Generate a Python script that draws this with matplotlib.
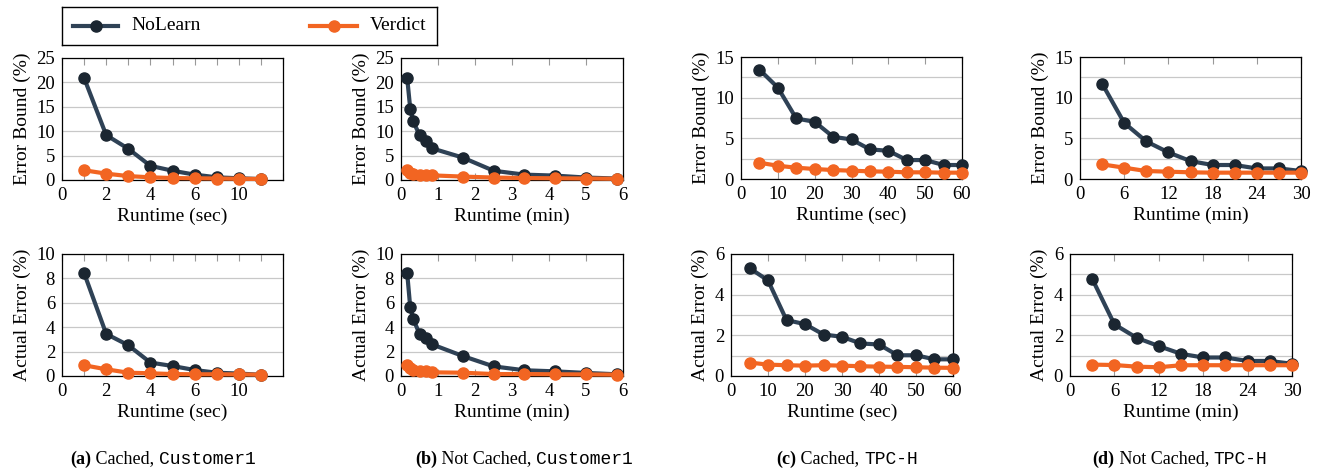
import numpy as np
import matplotlib
matplotlib.use("Agg")
import matplotlib.pyplot as plt

plt.rcParams['font.family'] = ['Liberation Serif', 'DejaVu Serif']

NAVY_LINE = '#2f4256'
NAVY_MARK = '#1b2631'
ORANGE = '#f26522'
GRID = '#c8c8c8'

# (a) Cached, Customer1  (runtime in sec)
a_runtime = [1, 2, 3, 4, 5, 6, 7, 8, 9]
a_nolearn_bound = [20.9, 9.2, 6.4, 2.9, 1.9, 1.1, 0.55, 0.35, 0.2]
a_verdict_bound = [2.0, 1.3, 0.8, 0.55, 0.4, 0.35, 0.3, 0.25, 0.2]
a_nolearn_err = [8.44, 3.45, 2.52, 1.1, 0.82, 0.49, 0.27, 0.2, 0.1]
a_verdict_err = [0.88, 0.55, 0.27, 0.22, 0.16, 0.14, 0.14, 0.13, 0.11]
a_xticks = [0, 1, 2, 3, 4, 5, 6, 7, 8, 9, 10]
a_xticklabels = ['0', '', '2', '', '4', '', '6', '', '10', '', '']

# (b) Not Cached, Customer1  (runtime in min)
b_runtime = [0.167, 0.25, 0.333, 0.5, 0.667, 0.833, 1.667, 2.5, 3.333, 4.167, 5.0, 5.833]
b_nolearn_bound = [20.9, 14.6, 12.0, 9.2, 7.9, 6.5, 4.6, 1.9, 1.1, 0.9, 0.5, 0.3]
b_verdict_bound = [2.05, 1.5, 1.3, 1.1, 1.0, 0.95, 0.7, 0.5, 0.4, 0.35, 0.3, 0.25]
b_nolearn_err = [8.44, 5.62, 4.66, 3.45, 3.1, 2.6, 1.64, 0.79, 0.47, 0.38, 0.25, 0.14]
b_verdict_err = [0.88, 0.63, 0.49, 0.44, 0.41, 0.3, 0.27, 0.16, 0.16, 0.14, 0.13, 0.11]

# (c) Cached, TPC-H  (runtime in sec)
c_runtime = [5, 10, 15, 20, 25, 30, 35, 40, 45, 50, 55, 60]
c_nolearn_bound = [13.45, 11.24, 7.44, 7.03, 5.19, 4.86, 3.64, 3.47, 2.33, 2.33, 1.72, 1.72]
c_verdict_bound = [2.0, 1.63, 1.39, 1.23, 1.1, 1.02, 0.94, 0.9, 0.82, 0.82, 0.78, 0.78]
c_nolearn_err = [5.31, 4.7, 2.75, 2.55, 2.04, 1.93, 1.6, 1.55, 1.02, 1.02, 0.82, 0.82]
c_verdict_err = [0.66, 0.56, 0.53, 0.51, 0.53, 0.51, 0.48, 0.46, 0.45, 0.43, 0.41, 0.4]

# (d) Not Cached, TPC-H  (runtime in min)
d_runtime = [3, 6, 9, 12, 15, 18, 21, 24, 27, 30]
d_nolearn_bound = [11.73, 6.9, 4.62, 3.27, 2.2, 1.72, 1.72, 1.3, 1.3, 0.98]
d_verdict_bound = [1.8, 1.39, 0.98, 0.9, 0.82, 0.78, 0.78, 0.78, 0.78, 0.78]
d_nolearn_err = [4.78, 2.54, 1.88, 1.47, 1.09, 0.91, 0.91, 0.74, 0.74, 0.6]
d_verdict_err = [0.56, 0.54, 0.46, 0.43, 0.53, 0.53, 0.53, 0.53, 0.53, 0.53]

series_names = ['NoLearn', 'Verdict']

W, H = 1322, 472
fig = plt.figure(figsize=(W / 100, H / 100), dpi=100)


def px_axes(left, top, right, bottom):
    return fig.add_axes([left / W, 1 - bottom / H, (right - left) / W, (bottom - top) / H])


def style(ax, xlim, xticks, ylim, yticks, ygrid, xlabel, ylabel, xticklabels=None):
    ax.set_xlim(*xlim)
    ax.set_ylim(*ylim)
    ax.set_xticks(xticks)
    if xticklabels is not None:
        ax.set_xticklabels(xticklabels)
    ax.set_yticks(yticks)
    ax.set_yticks(ygrid, minor=True)
    ax.grid(True, axis='y', which='both', color=GRID, linewidth=0.9)
    ax.set_axisbelow(True)
    ax.tick_params(axis='x', which='major', direction='in', top=True, bottom=True,
                   length=5, width=0.8, color='#999999', labelsize=13.5, pad=5)
    ax.tick_params(axis='y', which='both', length=0, labelsize=13.5, pad=5)
    for sp in ax.spines.values():
        sp.set_linewidth(0.9)
    ax.set_xlabel(xlabel, fontsize=14, labelpad=3)
    ax.set_ylabel(ylabel, fontsize=14, labelpad=4)


def draw(ax, x, nolearn, verdict):
    ax.plot(x, nolearn, color=NAVY_LINE, linewidth=3, marker='o', markersize=8,
            markerfacecolor=NAVY_MARK, markeredgecolor=NAVY_MARK, zorder=3, clip_on=False)
    ax.plot(x, verdict, color=ORANGE, linewidth=3, marker='o', markersize=8,
            markerfacecolor=ORANGE, markeredgecolor=ORANGE, zorder=4, clip_on=False)


panels = [
    # top row
    (62, 58, 283, 180, a_runtime, a_nolearn_bound, a_verdict_bound, (0, 10), a_xticks,
     (0, 25), np.arange(0, 26, 5), np.arange(0, 26, 5), 'Runtime (sec)', 'Error Bound (%)', a_xticklabels),
    (401, 58, 623, 180, b_runtime, b_nolearn_bound, b_verdict_bound, (0, 6), range(0, 7),
     (0, 25), np.arange(0, 26, 5), np.arange(0, 26, 5), 'Runtime (min)', 'Error Bound (%)', None),
    (741, 57, 962, 179, c_runtime, c_nolearn_bound, c_verdict_bound, (0, 60), range(0, 61, 10),
     (0, 15), np.arange(0, 16, 5), np.arange(0, 15.1, 2.5), 'Runtime (sec)', 'Error Bound (%)', None),
    (1080, 57, 1301, 179, d_runtime, d_nolearn_bound, d_verdict_bound, (0, 30), range(0, 31, 6),
     (0, 15), np.arange(0, 16, 5), np.arange(0, 15.1, 2.5), 'Runtime (min)', 'Error Bound (%)', None),
    # bottom row
    (62, 254, 283, 376, a_runtime, a_nolearn_err, a_verdict_err, (0, 10), a_xticks,
     (0, 10), np.arange(0, 11, 2), np.arange(0, 11, 2), 'Runtime (sec)', 'Actual Error (%)', a_xticklabels),
    (401, 254, 623, 376, b_runtime, b_nolearn_err, b_verdict_err, (0, 6), range(0, 7),
     (0, 10), np.arange(0, 11, 2), np.arange(0, 11, 2), 'Runtime (min)', 'Actual Error (%)', None),
    (731, 254, 953, 376, c_runtime, c_nolearn_err, c_verdict_err, (0, 60), range(0, 61, 10),
     (0, 6), np.arange(0, 7, 2), np.arange(0, 7, 1), 'Runtime (sec)', 'Actual Error (%)', None),
    (1070, 254, 1292, 376, d_runtime, d_nolearn_err, d_verdict_err, (0, 30), range(0, 31, 6),
     (0, 6), np.arange(0, 7, 2), np.arange(0, 7, 1), 'Runtime (min)', 'Actual Error (%)', None),
]

for (l, t, r, b, x, nl, vd, xlim, xt, ylim, yt, yg, xl, yl, xtl) in panels:
    ax = px_axes(l, t, r, b)
    style(ax, xlim, xt, ylim, yt, yg, xl, yl, xtl)
    draw(ax, x, nl, vd)

# legend box across the top (drawn by hand so the spacing matches)
leg_ax = px_axes(62, 7, 437, 45)
leg_ax.set_xticks([])
leg_ax.set_yticks([])
leg_ax.set_xlim(62, 437)
leg_ax.set_ylim(45, 7)
for sp in leg_ax.spines.values():
    sp.set_linewidth(1.0)
legend_slots = [(73, 118, 131), (310, 357, 370)]
legend_styles = [(NAVY_LINE, NAVY_MARK), (ORANGE, ORANGE)]
for name, (x0, x1, xt), (lc, mc) in zip(series_names, legend_slots, legend_styles):
    leg_ax.plot([x0, x1], [26, 26], color=lc, linewidth=3)
    leg_ax.plot([(x0 + x1) / 2], [26], 'o', markersize=8, color=mc)
    leg_ax.text(xt, 25.5, name, fontsize=14, va='center', ha='left')

# captions with mixed fonts
captions = [
    (163, '(a)', ' Cached, ', 'Customer1'),
    (524, '(b)', ' Not Cached, ', 'Customer1'),
    (847, '(c)', ' Cached, ', 'TPC-H'),
    (1180, '(d)', ' Not Cached, ', 'TPC-H'),
]
renderer = fig.canvas.get_renderer()
for cx, tag, body, code in captions:
    parts = [(tag, dict(fontweight='bold', family=['Liberation Serif'])),
             (body, dict(family=['Liberation Serif'])),
             (code, dict(family=['Liberation Mono', 'DejaVu Sans Mono']))]
    texts = []
    widths = []
    for s, kw in parts:
        tx = fig.text(0, 1 - 459 / H, s, fontsize=13, va='center', ha='left', **kw)
        bb = tx.get_window_extent(renderer=renderer)
        texts.append(tx)
        widths.append(bb.width)
    total = sum(widths)
    x0 = cx - total / 2
    for tx, w in zip(texts, widths):
        tx.set_x(x0 / W)
        x0 += w

fig.savefig('out.png', dpi=100)
